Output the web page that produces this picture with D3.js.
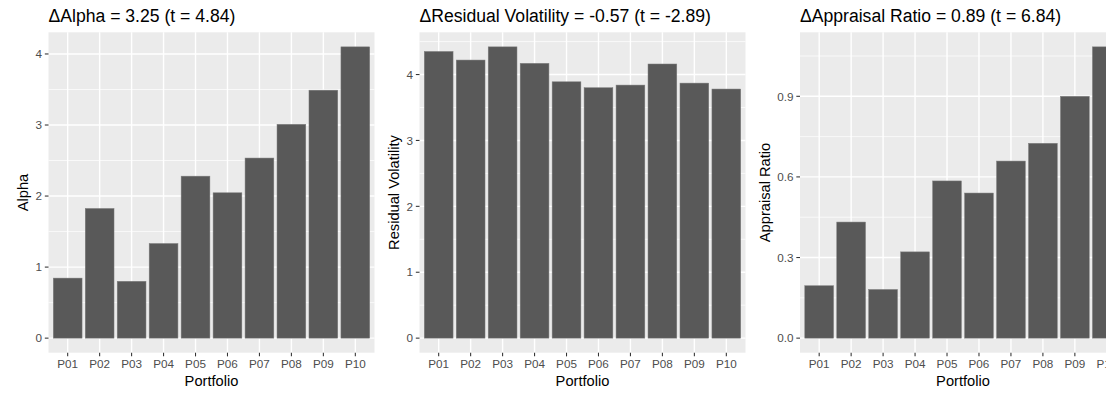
<!DOCTYPE html>
<html>
<head>
<meta charset="utf-8">
<script src="https://cdn.jsdelivr.net/npm/d3@7"></script>
<style>
  html, body { margin: 0; padding: 0; background: #fff; overflow: hidden; }
  svg { display: block; font-family: "Liberation Sans", Arial, Helvetica, sans-serif; }
</style>
</head>
<body>
<svg id="chart" width="1130" height="395"></svg>
<script>
const categories = ["P01","P02","P03","P04","P05","P06","P07","P08","P09","P10"];
const alphaValues = [0.845, 1.825, 0.80, 1.332, 2.28, 2.046, 2.535, 3.01, 3.49, 4.10];
const resVolValues = [4.35, 4.22, 4.42, 4.17, 3.89, 3.80, 3.84, 4.16, 3.87, 3.78];
const apprValues = [0.195, 0.432, 0.181, 0.321, 0.585, 0.540, 0.659, 0.725, 0.90, 1.084];
const titles = ["\u0394Alpha = 3.25 (t = 4.84)", "\u0394Residual Volatility = -0.57 (t = -2.89)", "\u0394Appraisal Ratio = 0.89 (t = 6.84)"];
const yTitles = ["Alpha", "Residual Volatility", "Appraisal Ratio"];
const xTitle = "Portfolio";
const alphaTicks = [0, 1, 2, 3, 4];
const resVolTicks = [0, 1, 2, 3, 4];
const apprTicks = [0, 0.3, 0.6, 0.9];
const alphaTickLabels = ["0", "1", "2", "3", "4"];
const resVolTickLabels = ["0", "1", "2", "3", "4"];
const apprTickLabels = ["0.0", "0.3", "0.6", "0.9"];

const panels = [
  { values: alphaValues, ticks: alphaTicks, labels: alphaTickLabels, title: titles[0], yTitle: yTitles[0], left: 48.5 },
  { values: resVolValues, ticks: resVolTicks, labels: resVolTickLabels, title: titles[1], yTitle: yTitles[1], left: 419.5 },
  { values: apprValues, ticks: apprTicks, labels: apprTickLabels, title: titles[2], yTitle: yTitles[2], left: 800 }
];

const svg = d3.select("#chart");
const panelW = 326, panelTop = 32.3, panelH = 320.4;
const tickLen = 3.67, tickGap = 2.93;

panels.forEach(p => {
  const g = svg.append("g");
  const x = d3.scaleBand().domain(categories)
    .range([p.left, p.left + panelW]).paddingInner(0.1).paddingOuter(0.15);
  const maxV = d3.max(p.values);
  const pad = 0.05 * maxV;
  const y = d3.scaleLinear().domain([-pad, maxV + pad]).range([panelTop + panelH, panelTop]);

  // background
  g.append("rect").attr("x", p.left).attr("y", panelTop).attr("width", panelW).attr("height", panelH).attr("fill", "#EBEBEB");

  // minor gridlines
  const step = p.ticks[1] - p.ticks[0];
  const minors = [];
  for (let i = 0; i < p.ticks.length + 1; i++) {
    const v = p.ticks[0] + (i + 0.5) * step;
    if (v > y.domain()[0] && v < y.domain()[1]) minors.push(v);
  }
  g.selectAll(".minor").data(minors).enter().append("line")
    .attr("x1", p.left).attr("x2", p.left + panelW)
    .attr("y1", d => y(d)).attr("y2", d => y(d))
    .attr("stroke", "#fff").attr("stroke-width", 0.7);
  // major y gridlines
  g.selectAll(".majy").data(p.ticks).enter().append("line")
    .attr("x1", p.left).attr("x2", p.left + panelW)
    .attr("y1", d => y(d)).attr("y2", d => y(d))
    .attr("stroke", "#fff").attr("stroke-width", 1.4);
  // major x gridlines
  g.selectAll(".majx").data(categories).enter().append("line")
    .attr("x1", d => x(d) + x.bandwidth() / 2).attr("x2", d => x(d) + x.bandwidth() / 2)
    .attr("y1", panelTop).attr("y2", panelTop + panelH)
    .attr("stroke", "#fff").attr("stroke-width", 1.4);

  // bars
  g.selectAll(".bar").data(p.values).enter().append("rect")
    .attr("x", (d, i) => x(categories[i]))
    .attr("width", x.bandwidth())
    .attr("y", d => y(d))
    .attr("height", d => y(0) - y(d))
    .attr("fill", "#595959")
    .attr("stroke", "#7d7d7d").attr("stroke-width", 0.5);

  // y axis ticks and labels
  g.selectAll(".yt").data(p.ticks).enter().append("line")
    .attr("x1", p.left - tickLen).attr("x2", p.left)
    .attr("y1", d => y(d)).attr("y2", d => y(d))
    .attr("stroke", "#333").attr("stroke-width", 1.07);
  g.selectAll(".yl").data(p.ticks).enter().append("text")
    .attr("x", p.left - tickLen - tickGap)
    .attr("y", d => y(d))
    .attr("dy", "0.36em")
    .attr("text-anchor", "end")
    .attr("font-size", "11.7px").attr("fill", "#4D4D4D")
    .text((d, i) => p.labels[i]);

  // x axis ticks and labels
  g.selectAll(".xt").data(categories).enter().append("line")
    .attr("x1", d => x(d) + x.bandwidth() / 2).attr("x2", d => x(d) + x.bandwidth() / 2)
    .attr("y1", panelTop + panelH).attr("y2", panelTop + panelH + tickLen)
    .attr("stroke", "#333").attr("stroke-width", 1.07);
  g.selectAll(".xl").data(categories).enter().append("text")
    .attr("x", d => x(d) + x.bandwidth() / 2)
    .attr("y", 367.8)
    .attr("text-anchor", "middle")
    .attr("font-size", "11.7px").attr("fill", "#4D4D4D")
    .text(d => d);

  // axis titles
  g.append("text")
    .attr("x", p.left + panelW / 2).attr("y", 385.5)
    .attr("text-anchor", "middle").attr("font-size", "14.67px").attr("fill", "#000")
    .text(xTitle);
  const labelW = d3.max(p.labels, l => l.length) ;
  g.append("text")
    .attr("transform", `translate(${p.left - tickLen - tickGap - (p.labels[p.labels.length-1].length === 1 ? 6.5 : 16.3) - 7.4},${panelTop + panelH / 2}) rotate(-90)`)
    .attr("text-anchor", "middle").attr("font-size", "14.67px").attr("fill", "#000")
    .text(p.yTitle);

  // title
  g.append("text")
    .attr("x", p.left).attr("y", 21.5)
    .attr("font-size", "17.6px").attr("fill", "#000")
    .text(p.title);
});
</script>
</body>
</html>
